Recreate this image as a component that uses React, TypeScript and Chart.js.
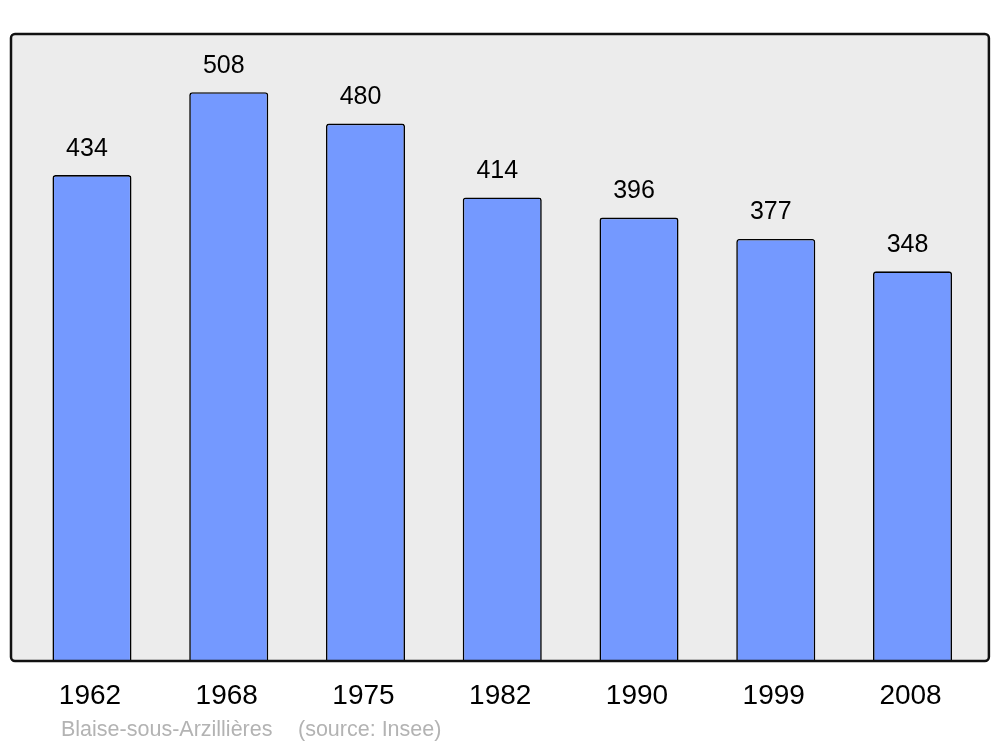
import React, { useEffect, useRef } from "react";
import { Chart, registerables } from "chart.js";

Chart.register(...registerables);

const years = ["1962", "1968", "1975", "1982", "1990", "1999", "2008"];
const population = [434, 508, 480, 414, 396, 377, 348];
const yMax = 560;
const captionPlace = "Blaise-sous-Arzillières";
const captionSource = "(source: Insee)";

const FONT = "'Liberation Sans', Arial, sans-serif";

const framePlugin = {
  id: "frame",
  beforeDatasetsDraw(chart: any) {
    const { ctx, chartArea } = chart;
    const l = chartArea.left - 12.6, r = chartArea.right + 8, t = chartArea.top, b = chartArea.bottom;
    ctx.save();
    ctx.beginPath();
    ctx.roundRect(l, t, r - l, b - t, 4);
    ctx.fillStyle = "#ececec";
    ctx.fill();
    ctx.restore();
  },
  afterDatasetsDraw(chart: any) {
    const { ctx, chartArea } = chart;
    const l = chartArea.left - 12.6, r = chartArea.right + 8, t = chartArea.top, b = chartArea.bottom;
    ctx.save();
    ctx.beginPath();
    ctx.roundRect(l, t, r - l, b - t, 4);
    ctx.lineWidth = 2.5;
    ctx.strokeStyle = "#111";
    ctx.stroke();
    // value labels
    const meta = chart.getDatasetMeta(0);
    ctx.fillStyle = "#000";
    ctx.font = `25px ${FONT}`;
    ctx.textAlign = "center";
    ctx.textBaseline = "alphabetic";
    meta.data.forEach((bar: any, i: number) => {
      ctx.fillText(String(population[i]), bar.x - 5, bar.y - 19.5);
    });
    // caption
    ctx.fillStyle = "#b3b3b3";
    ctx.font = `21.5px ${FONT}`;
    ctx.textAlign = "left";
    ctx.textBaseline = "middle";
    ctx.fillText(captionPlace, 61, 730);
    ctx.fillText(captionSource, 298, 730);
    ctx.restore();
  },
};

export default function App() {
  const ref = useRef<HTMLCanvasElement>(null);
  useEffect(() => {
    if (!ref.current) return;
    const chart = new Chart(ref.current, {
      type: "bar",
      data: {
        labels: years,
        datasets: [
          {
            data: population,
            backgroundColor: "#7499ff",
            borderColor: "#000",
            borderWidth: 1.6,
            borderRadius: { topLeft: 3, topRight: 3, bottomLeft: 0, bottomRight: 0 },
            borderSkipped: "bottom",
            barPercentage: 0.578,
            categoryPercentage: 1,
          },
        ],
      },
      options: {
        animation: false,
        responsive: false,
        maintainAspectRatio: false,
        layout: { padding: { left: 23.6, right: 19.1, top: 34, bottom: 16.4 } },
        plugins: { legend: { display: false }, tooltip: { enabled: false }, title: { display: false } },
        scales: {
          x: {
            offset: true,
            grid: { display: false, drawTicks: false },
            border: { display: false },
            ticks: {
              color: "#000",
              font: { family: FONT, size: 28 },
              padding: 18,
              labelOffset: -2,
              maxRotation: 0,
              autoSkip: false,
            },
          },
          y: {
            display: false,
            min: 0,
            max: yMax,
          },
        },
      },
      plugins: [framePlugin],
    });
    return () => chart.destroy();
  }, []);
  return (
    <div style={{ position: "fixed", left: 0, top: 0, width: 1000, height: 747, background: "#fff" }}>
      <canvas ref={ref} width={1000} height={747} style={{ display: "block" }} />
    </div>
  );
}
